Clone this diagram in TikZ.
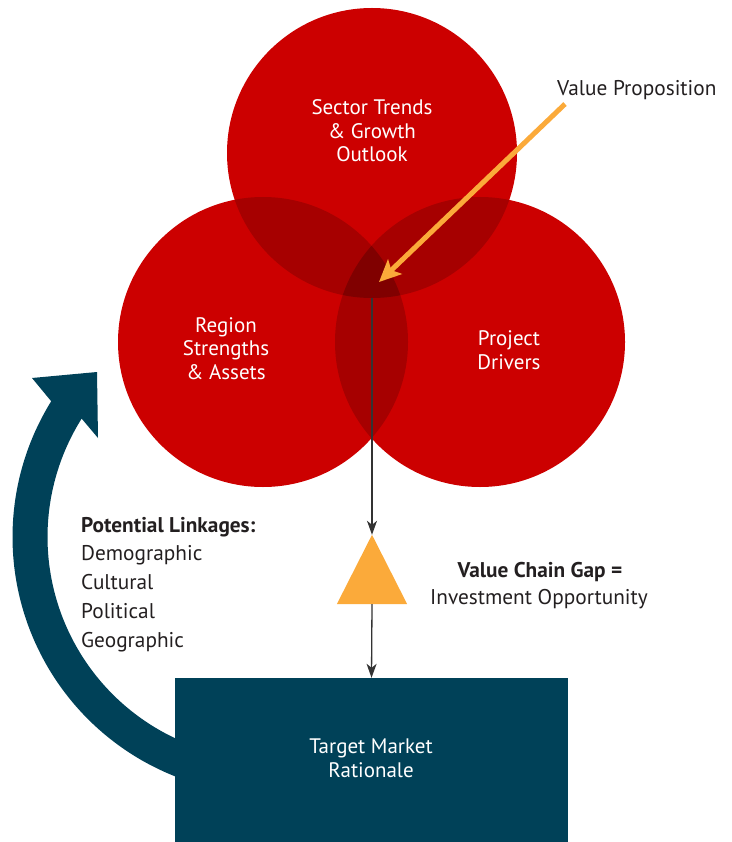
\documentclass[tikz,border=0pt]{standalone}
\usepackage{fontspec}
\setmainfont{PT Sans}
\usetikzlibrary{arrows.meta}
\definecolor{cred}{RGB}{204,0,0}
\definecolor{credb}{RGB}{166,0,0}
\definecolor{credc}{RGB}{128,0,0}
\definecolor{tealc}{RGB}{0,65,88}
\definecolor{orng}{RGB}{251,170,58}
\definecolor{txtc}{RGB}{35,31,32}
\definecolor{linec}{RGB}{51,51,51}
\begin{document}
\begin{tikzpicture}[x=1pt,y=-1pt,
  wlabel/.style={text=white,font=\fontsize{21}{23.5}\selectfont,align=center,inner sep=0pt},
  dlabel/.style={text=txtc,font=\fontsize{21.3}{23}\selectfont,inner sep=0pt},
  conn/.style={draw=linec,line width=1.3pt,-{Stealth[length=14pt,width=10pt,inset=4pt]}}]
\useasboundingbox (0,0) rectangle (731,842);
\coordinate (cT) at (372,153);
\coordinate (cL) at (263,342);
\coordinate (cR) at (480,342);
% circles
\fill[cred] (cT) circle[radius=145];
\fill[cred] (cL) circle[radius=145];
\fill[cred] (cR) circle[radius=145];
\begin{scope}
  \clip (cL) circle[radius=145];
  \fill[credb] (cT) circle[radius=145];
  \fill[credb] (cR) circle[radius=145];
\end{scope}
\begin{scope}
  \clip (cT) circle[radius=145];
  \fill[credb] (cR) circle[radius=145];
\end{scope}
\begin{scope}
  \clip (cL) circle[radius=145];
  \clip (cT) circle[radius=145];
  \fill[credc] (cR) circle[radius=145];
\end{scope}
% circle labels (base anchor = last line baseline)
\node[wlabel,anchor=base] (sector) at (372,162) {Sector Trends\\\& Growth\\Outlook};
\node[wlabel,anchor=base] (region) at (226,379) {Region\\Strengths\\\& Assets};
\node[wlabel,anchor=base] (project) at (509,369) {Project\\Drivers};
% value proposition
\node[dlabel,anchor=base west] (vp) at (557,96) {Value Proposition};
\coordinate (vpstart) at (565,104);
\coordinate (vpend) at (379,282);
\draw[orng,line width=5pt,-{Stealth[length=22pt,width=20pt,inset=5pt]}] (vpstart) -- (vpend);
% curved arrow
\draw[tealc,line width=35pt] plot[domain=100:213,samples=80] ({270+240*cos(\x)},{537+240*sin(\x)});
\coordinate (ahtip) at (97,372);
\fill[tealc] (ahtip) -- (32,378) -- (51,401) -- (82,419) -- (98,438) -- cycle;
% triangle and box
\node[minimum width=70pt,minimum height=69pt,inner sep=0pt] (tri) at (372,569.5) {};
\fill[orng] (tri.north) -- (tri.south east) -- (tri.south west) -- cycle;
\node[fill=tealc,minimum width=393pt,minimum height=164pt,inner sep=0pt] (box) at (371.5,760) {};
\node[wlabel,anchor=base] (boxtxt) at (371,777) {Target Market\\Rationale};
\coordinate (vstart) at (372,298);
\draw[conn] (vstart) -- (tri.north);
\draw[conn] (tri.south) -- (box.north);
% value chain gap
\node[dlabel,anchor=base] (vcg) at (540,577) {\textbf{Value Chain Gap =}};
\node[dlabel,anchor=base] (inv) at (539,604) {Investment Opportunity};
% potential linkages
\node[dlabel,anchor=base west] (pl) at (81,532) {\textbf{Potential Linkages:}};
\node[dlabel,anchor=base west] (l1) at (81,560) {Demographic};
\node[dlabel,anchor=base west] (l2) at (81,589) {Cultural};
\node[dlabel,anchor=base west] (l3) at (81,618) {Political};
\node[dlabel,anchor=base west] (l4) at (81,647) {Geographic};
\end{tikzpicture}
\end{document}
